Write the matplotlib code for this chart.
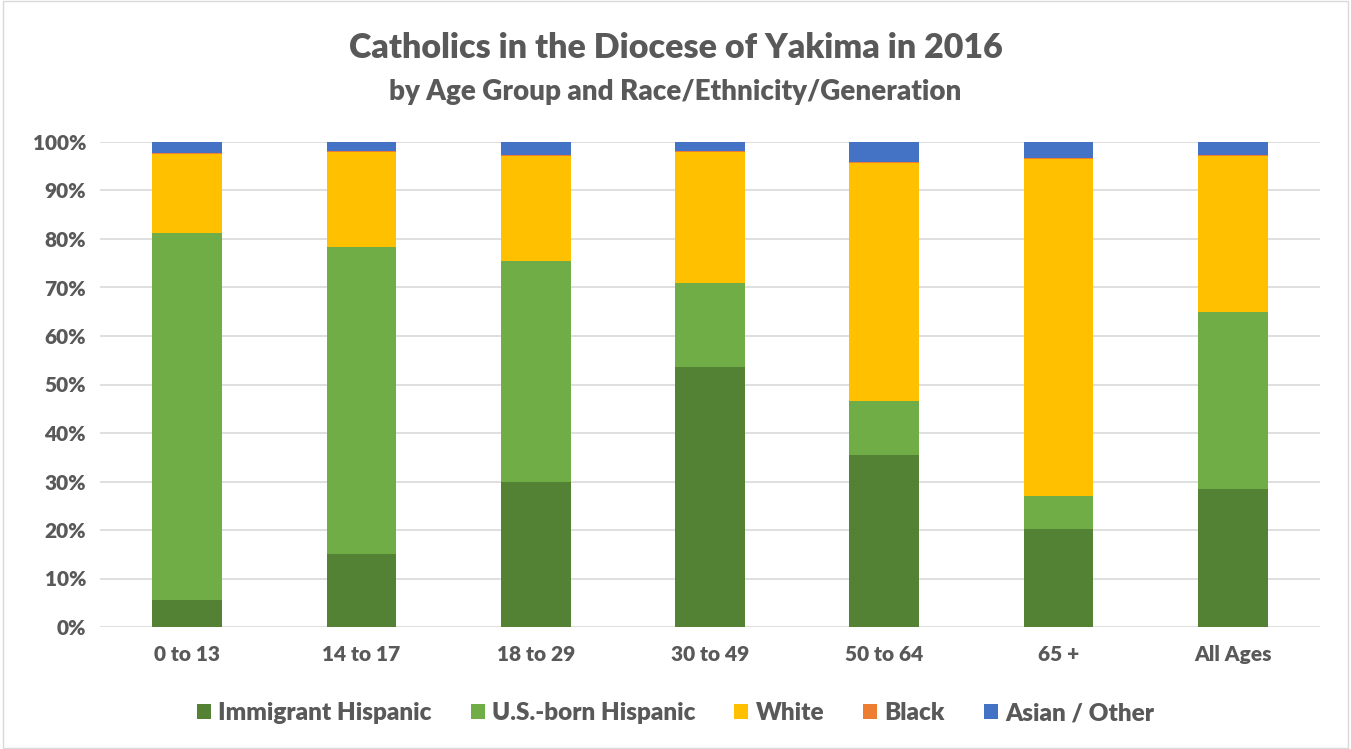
import matplotlib
matplotlib.use("Agg")
import matplotlib.pyplot as plt
import numpy as np

# Categorias e valores (% do total em cada faixa etária)
grupos = ["0 to 13", "14 to 17", "18 to 29", "30 to 49", "50 to 64", "65 +", "All Ages"]
imigrante_hisp = [5.6, 15.1, 29.9, 53.6, 35.5, 20.2, 28.5]
nativo_hisp = [75.6, 63.3, 45.6, 17.3, 11.1, 6.8, 36.5]
brancos = [16.3, 19.6, 21.6, 27.0, 49.1, 69.5, 32.1]
negros = [0.3, 0.2, 0.3, 0.3, 0.1, 0.1, 0.2]
asiaticos_outros = [2.2, 1.8, 2.6, 1.8, 4.2, 3.4, 2.7]

series = [
    ("Immigrant Hispanic", imigrante_hisp, "#548235"),
    ("U.S.-born Hispanic", nativo_hisp, "#70AD47"),
    ("White", brancos, "#FFC000"),
    ("Black", negros, "#ED7D31"),
    ("Asian / Other", asiaticos_outros, "#4472C4"),
]

plt.rcParams["font.family"] = ["Lato", "DejaVu Sans"]
cinza = "#595959"

fig = plt.figure(figsize=(13.51, 7.49), dpi=100)
ax = fig.add_axes([100 / 1351, 1 - 627 / 749, 1220 / 1351, 485 / 749])

x = np.arange(len(grupos))
base = np.zeros(len(grupos))
for nome, valores, cor in series:
    v = np.array(valores)
    ax.bar(x, v, 0.4, bottom=base, color=cor, label=nome, zorder=3)
    base += v

ax.set_xlim(-0.5, len(grupos) - 0.5)
ax.set_ylim(0, 100)
ax.set_yticks(np.arange(0, 101, 10))
ax.set_yticklabels([f"{t}%" for t in range(0, 101, 10)])
ax.set_xticks(x)
ax.set_xticklabels(grupos)
ax.tick_params(length=0, labelsize=15, colors=cinza)
ax.tick_params(axis="x", pad=13)
ax.tick_params(axis="y", pad=10)
for lbl in ax.get_xticklabels() + ax.get_yticklabels():
    lbl.set_fontweight("heavy")
ax.grid(axis="y", color="#D9D9D9", linewidth=1.2, zorder=0)
for s in ax.spines.values():
    s.set_visible(False)

fig.text(0.5, 1 - 48 / 749, "Catholics in the Diocese of Yakima in 2016", ha="center", va="center",
         fontsize=24.5, fontweight="heavy", color=cinza)
fig.text(0.5, 1 - 92 / 749, "by Age Group and Race/Ethnicity/Generation", ha="center", va="center",
         fontsize=20, fontweight="heavy", color=cinza)

leg = fig.legend(loc="center", bbox_to_anchor=(0.5, 1 - 713 / 749), ncol=5, frameon=False,
                 handlelength=0.58, handleheight=0.58, handletextpad=0.3, columnspacing=1.6,
                 prop={"size": 17.5, "weight": "heavy"})
for t in leg.get_texts():
    t.set_color(cinza)

# Moldura em volta do gráfico
fig.patches.append(plt.Rectangle((0.002, 0.002), 0.996, 0.996, transform=fig.transFigure,
                                 fill=False, edgecolor="#D9D9D9", linewidth=1))

fig.savefig("out.png", dpi=100)
